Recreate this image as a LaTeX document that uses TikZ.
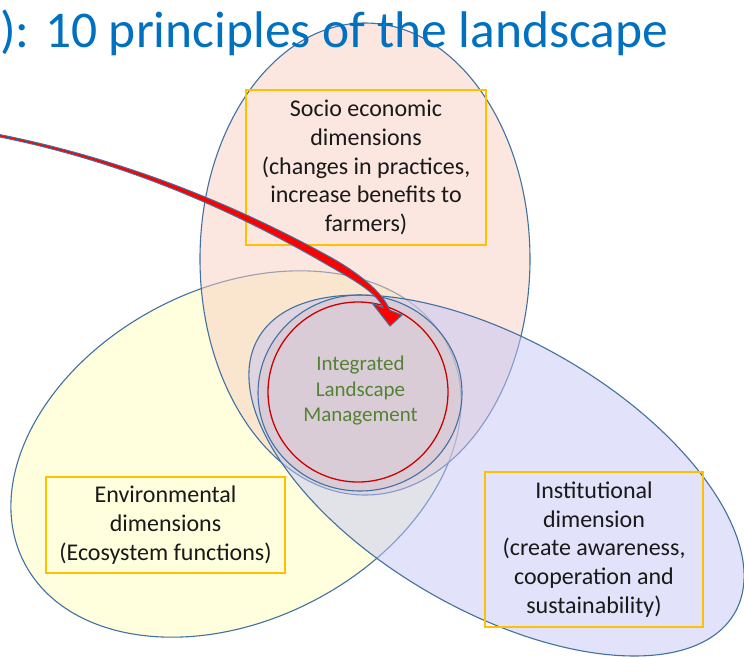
\documentclass[tikz,border=0pt]{standalone}
\usepackage{fontspec}
\setmainfont{Carlito}
\definecolor{socfill}{RGB}{247,205,193}
\definecolor{envfill}{RGB}{255,255,189}
\definecolor{instfill}{RGB}{197,197,245}
\definecolor{ilmfill}{RGB}{200,175,175}
\definecolor{edgeblue}{RGB}{65,113,160}
\definecolor{boxyellow}{RGB}{255,192,0}
\definecolor{circred}{RGB}{204,0,0}
\definecolor{arrowred}{RGB}{255,0,0}
\definecolor{titleblue}{RGB}{0,112,192}
\definecolor{ilmgreen}{RGB}{84,130,53}
\begin{document}
\begin{tikzpicture}[x=1pt,y=1pt,
  bigell/.style={draw=edgeblue, line width=1.1pt, fill opacity=0.5},
  tbox/.style={draw=boxyellow, line width=1.2pt, align=center, inner sep=0pt,
    font=\fontsize{24}{28.7}\selectfont, text=black!90}]
\useasboundingbox (0,0) rectangle (744,-657);
% big ellipses
\draw[bigell, fill=envfill, rotate around={27:(236,-454)}] (236,-454) ellipse [x radius=238pt, y radius=166pt];
\draw[bigell, fill=socfill] (365,-259) ellipse [x radius=165pt, y radius=236pt];
\draw[bigell, fill=instfill, rotate around={-30:(496.5,-475.5)}] (496.5,-475.5) ellipse [x radius=275pt, y radius=135pt];
% central ellipse and circle
\draw[bigell, fill=ilmfill, fill opacity=0.2] (360,-393) ellipse [x radius=102pt, y radius=98pt];
\draw[draw=circred, line width=1.3pt] (358,-392) circle [radius=90pt];
% text boxes
\node[tbox, minimum width=240pt, minimum height=155pt] (socio) at (366,-167.5)
  {Socio economic\\dimensions\\(changes in practices,\\increase benefits to\\farmers)};
\node[tbox, minimum width=239pt, minimum height=96pt] (env) at (165.5,-525)
  {Environmental\\dimensions\\(Ecosystem functions)};
\node[tbox, minimum width=218pt, minimum height=155pt] (inst) at (594,-549.5)
  {Institutional\\dimension\\(create awareness,\\cooperation and\\sustainability)};
\node[align=center, inner sep=0pt, text=ilmgreen, font=\fontsize{21}{25.5}\selectfont] (ilm) at (360.5,-391)
  {Integrated\\Landscape\\Management};
% curved arrow
\draw[draw=edgeblue, line width=1pt, fill=arrowred, line join=miter]
  (-2,-134.2) .. controls (110,-156.5) and (220,-196.5) .. (330,-257)
  .. controls (355,-270.75) and (382.8,-291.5) .. (389.8,-310.3)
  -- (402,-315) -- (390,-326) -- (372,-303) -- (383.2,-307.7)
  .. controls (376,-291.1) and (348,-276.8) .. (326,-264)
  .. controls (218,-201.4) and (110,-159) .. (-2,-136.6) -- cycle;
% title
\node[anchor=base west, inner sep=0pt, text=titleblue, font=\fontsize{51.5}{62}\selectfont] (title) at (0,-47)
  {): 10 principles of the landscape};
\end{tikzpicture}
\end{document}
